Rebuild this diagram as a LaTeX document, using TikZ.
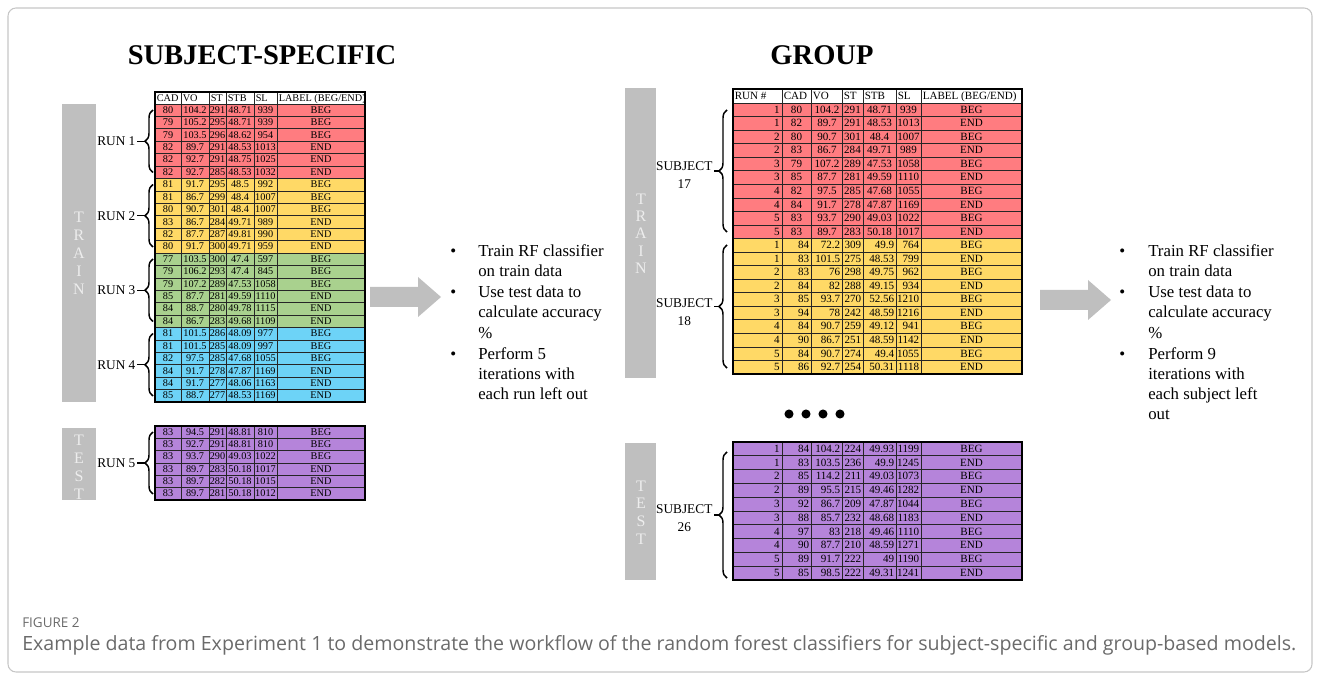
\documentclass[tikz,border=0pt]{standalone}
\usepackage{fontspec}
\setmainfont{Liberation Serif}
\newfontfamily\capfont{Open Sans}
\usetikzlibrary{decorations.pathreplacing}
\definecolor{cred}{HTML}{FF7C80}
\definecolor{cyel}{HTML}{FFD966}
\definecolor{cgrn}{HTML}{A9D18E}
\definecolor{cblu}{HTML}{6DD3F7}
\definecolor{cpur}{HTML}{B584DA}
\definecolor{barc}{HTML}{BFBFBF}
\definecolor{captxt}{HTML}{6A6A6A}
\begin{document}
\begin{tikzpicture}[x=0.75pt,y=-0.75pt,
  cell/.style={draw=black!85, line width=0.5pt},
  outer/.style={draw=black, line width=1pt},
  ltxt/.style={font=\fontsize{7.7}{9}\selectfont, inner sep=0pt},
  rtxt/.style={font=\fontsize{8.3}{10}\selectfont, inner sep=0pt},
  bartxt/.style={font=\fontsize{12}{14}\selectfont, text=white!93!black, inner sep=0pt},
  lbl/.style={font=\fontsize{10}{13.5}\selectfont, inner sep=1pt, align=center},
  bul/.style={font=\fontsize{12.6}{15}\selectfont, inner sep=0pt, anchor=base west},
  bracestyle/.style={decorate, decoration={brace, amplitude=6pt}, line width=1.1pt},
  bigarrow/.style={fill=barc, draw=none},
  titletxt/.style={font=\bfseries\fontsize{21.4}{24}\selectfont, inner sep=0pt}]
\useasboundingbox (0,0) rectangle (1320,680);
\draw[gray!45, line width=0.8pt, rounded corners=6pt] (8,8) rectangle (1312,672);

% titles
\node[titletxt] (t1) at (262,55) {SUBJECT-SPECIFIC};
\node[titletxt] (t2) at (822,55) {GROUP};

% gray bars
\fill[barc] (62,104) rectangle (96,402);
\fill[barc] (62,428) rectangle (96,500);
\fill[barc] (625,88) rectangle (656,378);
\fill[barc] (625,443) rectangle (656,580);
\foreach \ch [count=\k] in {T,R,A,I,N}
  \node[bartxt] (lt\k) at (79,{217+(\k-1)*18}) {\ch};
\foreach \ch [count=\k] in {T,E,S,T}
  \node[bartxt] (le\k) at (79,{440+(\k-1)*18}) {\ch};
\foreach \ch [count=\k] in {T,R,A,I,N}
  \node[bartxt] (rt\k) at (641,{199+(\k-1)*17.3}) {\ch};
\foreach \ch [count=\k] in {T,E,S,T}
  \node[bartxt] (re\k) at (641,{486+(\k-1)*17.7}) {\ch};

% ---------- left table header
\fill[white] (155,92) rectangle (365,104);
\foreach \xa/\xb/\h in {155/181/CAD,181/209/VO,209/226/ST,226/254/STB,254/277/SL,277/365/{LABEL (BEG/END)}}{
  \draw[cell] (\xa,92) rectangle (\xb,104);
  \node[ltxt, anchor=base west] (lh\xa) at (\xa+1.5,101.5) {\h};
}
% left table rows
\foreach \i/\a/\b/\c/\d/\e/\f/\col in {
 1/80/104.2/291/48.71/939/BEG/cred, 2/79/105.2/295/48.71/939/BEG/cred, 3/79/103.5/296/48.62/954/BEG/cred,
 4/82/89.7/291/48.53/1013/END/cred, 5/82/92.7/291/48.75/1025/END/cred, 6/82/92.7/285/48.53/1032/END/cred,
 7/81/91.7/295/48.5/992/BEG/cyel, 8/81/86.7/299/48.4/1007/BEG/cyel, 9/80/90.7/301/48.4/1007/BEG/cyel,
 10/83/86.7/284/49.71/989/END/cyel, 11/82/87.7/287/49.81/990/END/cyel, 12/80/91.7/300/49.71/959/END/cyel,
 13/77/103.5/300/47.4/597/BEG/cgrn, 14/79/106.2/293/47.4/845/BEG/cgrn, 15/79/107.2/289/47.53/1058/BEG/cgrn,
 16/85/87.7/281/49.59/1110/END/cgrn, 17/84/88.7/280/49.78/1115/END/cgrn, 18/84/86.7/283/49.68/1109/END/cgrn,
 19/81/101.5/286/48.09/977/BEG/cblu, 20/81/101.5/285/48.09/997/BEG/cblu, 21/82/97.5/285/47.68/1055/BEG/cblu,
 22/84/91.7/278/47.87/1169/END/cblu, 23/84/91.7/277/48.06/1163/END/cblu, 24/85/88.7/277/48.53/1169/END/cblu}{
  \pgfmathsetmacro\yt{104+(\i-1)*12.417}
  \pgfmathsetmacro\yb{\yt+12.417}
  \pgfmathsetmacro\yl{\yt+9.3}
  \fill[\col] (155,\yt) rectangle (365,\yb);
  \foreach \xa/\xb in {155/181,181/209,209/226,226/254,254/277,277/365}
    \draw[cell] (\xa,\yt) rectangle (\xb,\yb);
  \node[ltxt, anchor=base] (la\i) at (168,\yl) {\a};
  \node[ltxt, anchor=base] (lb\i) at (195,\yl) {\b};
  \node[ltxt, anchor=base] (lc\i) at (217.5,\yl) {\c};
  \node[ltxt, anchor=base] (ld\i) at (240,\yl) {\d};
  \node[ltxt, anchor=base] (le\i) at (265.5,\yl) {\e};
  \node[ltxt, anchor=base] (lf\i) at (321,\yl) {\f};
}
\draw[outer] (155,92) rectangle (365,402);

% left test table
\foreach \i/\a/\b/\c/\d/\e/\f in {
 1/83/94.5/291/48.81/810/BEG, 2/83/92.7/291/48.81/810/BEG, 3/83/93.7/290/49.03/1022/BEG,
 4/83/89.7/283/50.18/1017/END, 5/83/89.7/282/50.18/1015/END, 6/83/89.7/281/50.18/1012/END}{
  \pgfmathsetmacro\yt{426+(\i-1)*12.333}
  \pgfmathsetmacro\yb{\yt+12.333}
  \pgfmathsetmacro\yl{\yt+9.3}
  \fill[cpur] (155,\yt) rectangle (365,\yb);
  \foreach \xa/\xb in {155/181,181/209,209/226,226/254,254/277,277/365}
    \draw[cell] (\xa,\yt) rectangle (\xb,\yb);
  \node[ltxt, anchor=base] (ta\i) at (168,\yl) {\a};
  \node[ltxt, anchor=base] (tb\i) at (195,\yl) {\b};
  \node[ltxt, anchor=base] (tc\i) at (217.5,\yl) {\c};
  \node[ltxt, anchor=base] (td\i) at (240,\yl) {\d};
  \node[ltxt, anchor=base] (te\i) at (265.5,\yl) {\e};
  \node[ltxt, anchor=base] (tf\i) at (321,\yl) {\f};
}
\draw[outer] (155,426) rectangle (365,500);

% left braces and run labels
\foreach \r/\top/\bot in {1/104/178.5, 2/178.5/253, 3/253/327.5, 4/327.5/402, 5/426/500}{
  \pgfmathsetmacro\mid{(\top+\bot)/2}
  \draw[bracestyle] (153,\bot-6) -- (153,\top+6);
  \coordinate (rtip\r) at (145,\mid);
  \node[lbl, anchor=east] (run\r) at (137,\mid) {RUN \r};
  \draw[line width=1.1pt] (run\r.east) -- (rtip\r);
}

% left bullets and arrow
\node[bul] (lb1) at (450,257) {•};
\node[bul] (lb2) at (450,298) {•};
\node[bul] (lb3) at (450,360) {•};
\foreach \y/\t [count=\k] in {257/Train RF classifier, 277/on train data, 298/Use test data to, 318/calculate accuracy, 339/\%, 360/Perform 5, 380/iterations with, 400/each run left out}
  \node[bul] (lt\k) at (478,\y) {\t};
\fill[bigarrow] (370,287) -- (418,287) -- (418,277) -- (441,297) -- (418,317) -- (418,307) -- (370,307) -- cycle;

% ---------- right table header
\fill[white] (733,89) rectangle (1022,103);
\foreach \xa/\xb/\h in {733/782/RUN \#,782/811/CAD,811/842/VO,842/863/ST,863/896/STB,896/921/SL,921/1022/{LABEL (BEG/END)}}{
  \draw[cell] (\xa,89) rectangle (\xb,103);
  \node[rtxt, anchor=base west] (rh\xa) at (\xa+1.5,100) {\h};
}
% red rows (centered)
\foreach \i/\n/\a/\b/\c/\d/\e/\f in {
 1/1/80/104.2/291/48.71/939/BEG, 2/1/82/89.7/291/48.53/1013/END, 3/2/80/90.7/301/48.4/1007/BEG,
 4/2/83/86.7/284/49.71/989/END, 5/3/79/107.2/289/47.53/1058/BEG, 6/3/85/87.7/281/49.59/1110/END,
 7/4/82/97.5/285/47.68/1055/BEG, 8/4/84/91.7/278/47.87/1169/END, 9/5/83/93.7/290/49.03/1022/BEG,
 10/5/83/89.7/283/50.18/1017/END}{
  \pgfmathsetmacro\yt{103+(\i-1)*13.55}
  \pgfmathsetmacro\yb{\yt+13.55}
  \pgfmathsetmacro\yl{\yt+10.2}
  \fill[cred] (733,\yt) rectangle (1022,\yb);
  \foreach \xa/\xb in {733/782,782/811,811/842,842/863,863/896,896/921,921/1022}
    \draw[cell] (\xa,\yt) rectangle (\xb,\yb);
  \node[rtxt, anchor=base east] (sn\i) at (780,\yl) {\n};
  \node[rtxt, anchor=base] (sa\i) at (796.5,\yl) {\a};
  \node[rtxt, anchor=base] (sb\i) at (827,\yl) {\b};
  \node[rtxt, anchor=base] (sc\i) at (852.5,\yl) {\c};
  \node[rtxt, anchor=base] (sd\i) at (879.5,\yl) {\d};
  \node[rtxt, anchor=base] (se\i) at (908.5,\yl) {\e};
  \node[rtxt, anchor=base] (sf\i) at (971.5,\yl) {\f};
}
% yellow rows (right aligned)
\foreach \i/\n/\a/\b/\c/\d/\e/\f in {
 11/1/84/72.2/309/49.9/764/BEG, 12/1/83/101.5/275/48.53/799/END, 13/2/83/76/298/49.75/962/BEG,
 14/2/84/82/288/49.15/934/END, 15/3/85/93.7/270/52.56/1210/BEG, 16/3/94/78/242/48.59/1216/END,
 17/4/84/90.7/259/49.12/941/BEG, 18/4/90/86.7/251/48.59/1142/END, 19/5/84/90.7/274/49.4/1055/BEG,
 20/5/86/92.7/254/50.31/1118/END}{
  \pgfmathsetmacro\yt{103+(\i-1)*13.55}
  \pgfmathsetmacro\yb{\yt+13.55}
  \pgfmathsetmacro\yl{\yt+10.2}
  \fill[cyel] (733,\yt) rectangle (1022,\yb);
  \foreach \xa/\xb in {733/782,782/811,811/842,842/863,863/896,896/921,921/1022}
    \draw[cell] (\xa,\yt) rectangle (\xb,\yb);
  \node[rtxt, anchor=base east] (sn\i) at (780,\yl) {\n};
  \node[rtxt, anchor=base east] (sa\i) at (809.5,\yl) {\a};
  \node[rtxt, anchor=base east] (sb\i) at (840.5,\yl) {\b};
  \node[rtxt, anchor=base east] (sc\i) at (861.5,\yl) {\c};
  \node[rtxt, anchor=base east] (sd\i) at (894.5,\yl) {\d};
  \node[rtxt, anchor=base east] (se\i) at (919.5,\yl) {\e};
  \node[rtxt, anchor=base] (sf\i) at (971.5,\yl) {\f};
}
\draw[outer] (733,89) rectangle (1022,374);

% right test table
\foreach \i/\n/\a/\b/\c/\d/\e/\f in {
 1/1/84/104.2/224/49.93/1199/BEG, 2/1/83/103.5/236/49.9/1245/END, 3/2/85/114.2/211/49.03/1073/BEG,
 4/2/89/95.5/215/49.46/1282/END, 5/3/92/86.7/209/47.87/1044/BEG, 6/3/88/85.7/232/48.68/1183/END,
 7/4/97/83/218/49.46/1110/BEG, 8/4/90/87.7/210/48.59/1271/END, 9/5/89/91.7/222/49/1190/BEG,
 10/5/85/98.5/222/49.31/1241/END}{
  \pgfmathsetmacro\yt{442+(\i-1)*13.8}
  \pgfmathsetmacro\yb{\yt+13.8}
  \pgfmathsetmacro\yl{\yt+10.3}
  \fill[cpur] (733,\yt) rectangle (1022,\yb);
  \foreach \xa/\xb in {733/782,782/811,811/842,842/863,863/896,896/921,921/1022}
    \draw[cell] (\xa,\yt) rectangle (\xb,\yb);
  \node[rtxt, anchor=base east] (gn\i) at (780,\yl) {\n};
  \node[rtxt, anchor=base east] (ga\i) at (809.5,\yl) {\a};
  \node[rtxt, anchor=base east] (gb\i) at (840.5,\yl) {\b};
  \node[rtxt, anchor=base east] (gc\i) at (861.5,\yl) {\c};
  \node[rtxt, anchor=base east] (gd\i) at (894.5,\yl) {\d};
  \node[rtxt, anchor=base east] (ge\i) at (919.5,\yl) {\e};
  \node[rtxt, anchor=base] (gf\i) at (971.5,\yl) {\f};
}
\draw[outer] (733,442) rectangle (1022,580);

% right braces and subject labels
\foreach \s/\top/\bot/\ly in {17/110/232/175, 18/245/368/312, 26/452/578/518.5}{
  \pgfmathsetmacro\mid{(\top+\bot)/2}
  \draw[bracestyle] (727,\bot) -- (727,\top);
  \coordinate (stip\s) at (719,\mid);
  \node[lbl, anchor=east] (subj\s) at (714,\ly) {SUBJECT\\\s};
  \draw[line width=1.1pt] (subj\s.east |- stip\s) -- (stip\s);
}

% dots
\foreach \x [count=\k] in {789,806,823,840}
  \fill (\x,414) circle (3.4pt);

% right bullets and arrow
\node[bul] (rb1) at (1119,257) {•};
\node[bul] (rb2) at (1119,298) {•};
\node[bul] (rb3) at (1119,360) {•};
\foreach \y/\t [count=\k] in {257/Train RF classifier, 277/on train data, 298/Use test data to, 318/calculate accuracy, 339/\%, 360/Perform 9, 380/iterations with, 400/each subject left, 420/out}
  \node[bul] (rt\k) at (1148,\y) {\t};
\fill[bigarrow] (1040,290) -- (1088,290) -- (1088,280) -- (1111,300) -- (1088,320) -- (1088,310) -- (1040,310) -- cycle;

% caption
\node[inner sep=0pt, anchor=base west, text=captxt, font=\capfont\fontsize{10.1}{12}\selectfont] (figlbl) at (22,627) {FIGURE 2};
\node[inner sep=0pt, anchor=base west, text=captxt, font=\capfont\fontsize{14.7}{17}\selectfont] (figcap) at (22,650) {Example data from Experiment 1 to demonstrate the workflow of the random forest classifiers for subject-specific and group-based models.};
\end{tikzpicture}
\end{document}
